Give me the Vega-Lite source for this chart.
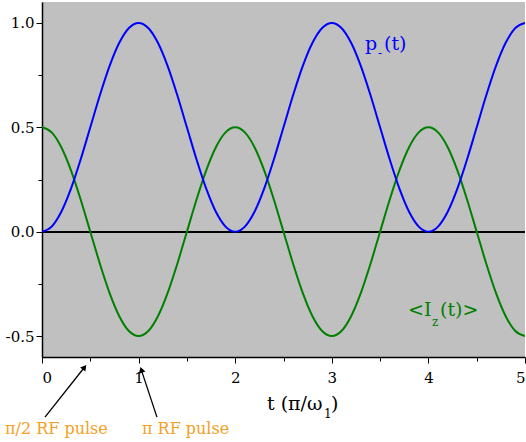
{
  "$schema": "https://vega.github.io/schema/vega-lite/v6.json",
  "autosize": {"type": "none"},
  "padding": {"left": 42, "top": 2, "right": 1, "bottom": 85},
  "width": 483,
  "height": 355,
  "background": "white",
  "config": {
    "font": "DejaVu Serif",
    "view": {"fill": "#c0c0c0", "stroke": null},
    "axis": {
      "domainColor": "black",
      "domainWidth": 1.5,
      "tickColor": "black",
      "tickWidth": 1,
      "labelFont": "DejaVu Serif",
      "labelFontSize": 15,
      "labelColor": "black",
      "grid": false,
      "title": null
    },
    "text": {"font": "DejaVu Serif"}
  },
  "datasets": {
    "curves": [
      {"t": 0.0, "p": 0.0, "iz": 0.5},
      {"t": 0.1, "p": 0.0245, "iz": 0.4755},
      {"t": 0.2, "p": 0.0955, "iz": 0.4045},
      {"t": 0.3, "p": 0.2061, "iz": 0.2939},
      {"t": 0.4, "p": 0.3455, "iz": 0.1545},
      {"t": 0.5, "p": 0.5, "iz": 0.0},
      {"t": 0.6, "p": 0.6545, "iz": -0.1545},
      {"t": 0.7, "p": 0.7939, "iz": -0.2939},
      {"t": 0.8, "p": 0.9045, "iz": -0.4045},
      {"t": 0.9, "p": 0.9755, "iz": -0.4755},
      {"t": 1.0, "p": 1.0, "iz": -0.5},
      {"t": 1.1, "p": 0.9755, "iz": -0.4755},
      {"t": 1.2, "p": 0.9045, "iz": -0.4045},
      {"t": 1.3, "p": 0.7939, "iz": -0.2939},
      {"t": 1.4, "p": 0.6545, "iz": -0.1545},
      {"t": 1.5, "p": 0.5, "iz": 0.0},
      {"t": 1.6, "p": 0.3455, "iz": 0.1545},
      {"t": 1.7, "p": 0.2061, "iz": 0.2939},
      {"t": 1.8, "p": 0.0955, "iz": 0.4045},
      {"t": 1.9, "p": 0.0245, "iz": 0.4755},
      {"t": 2.0, "p": 0.0, "iz": 0.5},
      {"t": 2.1, "p": 0.0245, "iz": 0.4755},
      {"t": 2.2, "p": 0.0955, "iz": 0.4045},
      {"t": 2.3, "p": 0.2061, "iz": 0.2939},
      {"t": 2.4, "p": 0.3455, "iz": 0.1545},
      {"t": 2.5, "p": 0.5, "iz": 0.0},
      {"t": 2.6, "p": 0.6545, "iz": -0.1545},
      {"t": 2.7, "p": 0.7939, "iz": -0.2939},
      {"t": 2.8, "p": 0.9045, "iz": -0.4045},
      {"t": 2.9, "p": 0.9755, "iz": -0.4755},
      {"t": 3.0, "p": 1.0, "iz": -0.5},
      {"t": 3.1, "p": 0.9755, "iz": -0.4755},
      {"t": 3.2, "p": 0.9045, "iz": -0.4045},
      {"t": 3.3, "p": 0.7939, "iz": -0.2939},
      {"t": 3.4, "p": 0.6545, "iz": -0.1545},
      {"t": 3.5, "p": 0.5, "iz": 0.0},
      {"t": 3.6, "p": 0.3455, "iz": 0.1545},
      {"t": 3.7, "p": 0.2061, "iz": 0.2939},
      {"t": 3.8, "p": 0.0955, "iz": 0.4045},
      {"t": 3.9, "p": 0.0245, "iz": 0.4755},
      {"t": 4.0, "p": 0.0, "iz": 0.5},
      {"t": 4.1, "p": 0.0245, "iz": 0.4755},
      {"t": 4.2, "p": 0.0955, "iz": 0.4045},
      {"t": 4.3, "p": 0.2061, "iz": 0.2939},
      {"t": 4.4, "p": 0.3455, "iz": 0.1545},
      {"t": 4.5, "p": 0.5, "iz": 0.0},
      {"t": 4.6, "p": 0.6545, "iz": -0.1545},
      {"t": 4.7, "p": 0.7939, "iz": -0.2939},
      {"t": 4.8, "p": 0.9045, "iz": -0.4045},
      {"t": 4.9, "p": 0.9755, "iz": -0.4755},
      {"t": 5.0, "p": 1.0, "iz": -0.5}
    ]
  },
  "layer": [
    {
      "data": {"name": "curves"},
      "mark": {"type": "rule", "color": "black", "strokeWidth": 1.5},
      "encoding": {
        "y": {
          "datum": 0,
          "type": "quantitative",
          "scale": {"domain": [-0.6, 1.1], "nice": false, "zero": false},
          "axis": {
            "values": [-0.5, -0.25, 0, 0.25, 0.5, 0.75, 1.0],
            "tickSize": {"condition": {"test": "abs(datum.value * 2 - round(datum.value * 2)) < 0.001", "value": 6}, "value": 4},
            "labelPadding": 2,
            "labelExpr": "datum.value == 1 ? '1.0' : datum.value == 0.5 ? '0.5' : datum.value == 0 ? '0.0' : datum.value == -0.5 ? '-0.5' : ''"
          }
        }
      }
    },
    {
      "data": {"name": "curves"},
      "mark": {"type": "line", "color": "#008000", "strokeWidth": 2, "interpolate": "monotone", "clip": true},
      "encoding": {
        "x": {
          "field": "t",
          "type": "quantitative",
          "scale": {"domain": [0, 5], "nice": false, "zero": false},
          "axis": {
            "values": [0, 0.5, 1, 1.5, 2, 2.5, 3, 3.5, 4, 4.5, 5],
            "tickSize": {"condition": {"test": "datum.value % 1 === 0", "value": 6}, "value": 4},
            "labelPadding": 7,
            "labelExpr": "datum.value % 1 === 0 ? toString(datum.value) : ''"
          }
        },
        "y": {"field": "iz", "type": "quantitative"}
      }
    },
    {
      "data": {"name": "curves"},
      "mark": {"type": "line", "color": "#0000ff", "strokeWidth": 2, "interpolate": "monotone", "clip": true},
      "encoding": {
        "x": {"field": "t", "type": "quantitative"},
        "y": {"field": "p", "type": "quantitative"}
      }
    },
    {
      "data": {"values": [
        {"x": 0.031, "y": -0.888, "x2": 0.44, "y2": -0.649},
        {"x": 1.19, "y": -0.888, "x2": 1.028, "y2": -0.6615}
      ]},
      "mark": {"type": "rule", "color": "black", "strokeWidth": 1.3, "clip": false},
      "encoding": {
        "x": {"field": "x", "type": "quantitative"},
        "y": {"field": "y", "type": "quantitative"},
        "x2": {"field": "x2"},
        "y2": {"field": "y2"}
      }
    },
    {
      "data": {"values": [{"x": 0.44, "y": -0.649}]},
      "mark": {"type": "point", "shape": "triangle-up", "filled": true, "color": "black", "size": 45, "angle": 38, "opacity": 1, "clip": false},
      "encoding": {
        "x": {"field": "x", "type": "quantitative"},
        "y": {"field": "y", "type": "quantitative"}
      }
    },
    {
      "data": {"values": [{"x": 1.028, "y": -0.6615}]},
      "mark": {"type": "point", "shape": "triangle-up", "filled": true, "color": "black", "size": 45, "angle": -18, "opacity": 1, "clip": false},
      "encoding": {
        "x": {"field": "x", "type": "quantitative"},
        "y": {"field": "y", "type": "quantitative"}
      }
    },
    {
      "data": {"values": [
        {"x": -0.383, "y": -0.969, "label": "π/2 RF pulse"},
        {"x": 1.035, "y": -0.969, "label": "π RF pulse"}
      ]},
      "mark": {"type": "text", "align": "left", "baseline": "alphabetic", "fontSize": 16, "color": "#f5a023", "clip": false},
      "encoding": {
        "x": {"field": "x", "type": "quantitative"},
        "y": {"field": "y", "type": "quantitative"},
        "text": {"field": "label"}
      }
    },
    {
      "data": {"values": [
        {"x": 2.329, "y": -0.854, "label": "t (π/ω"},
        {"x": 2.992, "y": -0.854, "label": ")"}
      ]},
      "mark": {"type": "text", "align": "left", "baseline": "alphabetic", "fontSize": 19, "color": "black", "clip": false},
      "encoding": {
        "x": {"field": "x", "type": "quantitative"},
        "y": {"field": "y", "type": "quantitative"},
        "text": {"field": "label"}
      }
    },
    {
      "data": {"values": [{"x": 2.919, "y": -0.892, "label": "1"}]},
      "mark": {"type": "text", "align": "left", "baseline": "alphabetic", "fontSize": 12, "color": "black", "clip": false},
      "encoding": {
        "x": {"field": "x", "type": "quantitative"},
        "y": {"field": "y", "type": "quantitative"},
        "text": {"field": "label"}
      }
    },
    {
      "data": {"values": [
        {"x": 3.344, "y": 0.87, "label": "p"},
        {"x": 3.54, "y": 0.87, "label": "(t)"}
      ]},
      "mark": {"type": "text", "align": "left", "baseline": "alphabetic", "fontSize": 19, "color": "#0000ff"},
      "encoding": {
        "x": {"field": "x", "type": "quantitative"},
        "y": {"field": "y", "type": "quantitative"},
        "text": {"field": "label"}
      }
    },
    {
      "data": {"values": [{"x": 3.478, "y": 0.837, "label": "-"}]},
      "mark": {"type": "text", "align": "left", "baseline": "alphabetic", "fontSize": 12, "color": "#0000ff"},
      "encoding": {
        "x": {"field": "x", "type": "quantitative"},
        "y": {"field": "y", "type": "quantitative"},
        "text": {"field": "label"}
      }
    },
    {
      "data": {"values": [
        {"x": 3.789, "y": -0.404, "label": "<I"},
        {"x": 4.12, "y": -0.404, "label": "(t)>"}
      ]},
      "mark": {"type": "text", "align": "left", "baseline": "alphabetic", "fontSize": 19, "color": "#008000"},
      "encoding": {
        "x": {"field": "x", "type": "quantitative"},
        "y": {"field": "y", "type": "quantitative"},
        "text": {"field": "label"}
      }
    },
    {
      "data": {"values": [{"x": 4.037, "y": -0.452, "label": "z"}]},
      "mark": {"type": "text", "align": "left", "baseline": "alphabetic", "fontSize": 12, "color": "#008000"},
      "encoding": {
        "x": {"field": "x", "type": "quantitative"},
        "y": {"field": "y", "type": "quantitative"},
        "text": {"field": "label"}
      }
    }
  ]
}
